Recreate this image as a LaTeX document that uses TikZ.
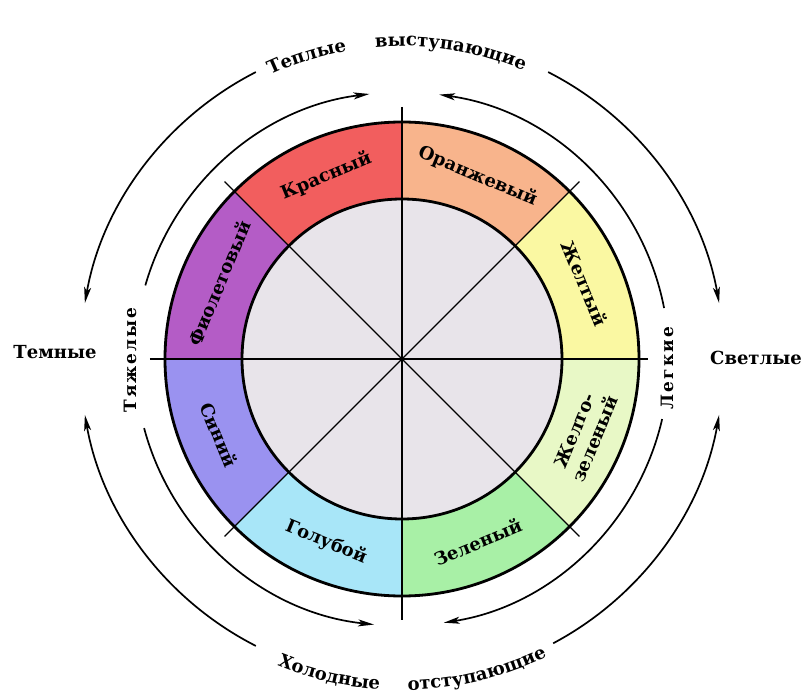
\documentclass[tikz,border=0pt]{standalone}
\usepackage{fontspec}
\setmainfont{DejaVu Serif}
\newfontfamily\spaced[LetterSpace=12]{DejaVu Serif}
\usetikzlibrary{arrows.meta,decorations.text}
\definecolor{red}{HTML}{F25E5E}
\definecolor{ora}{HTML}{F8B48C}
\definecolor{yel}{HTML}{FAF8A2}
\definecolor{ygr}{HTML}{E8F8C6}
\definecolor{grn}{HTML}{A8F0A6}
\definecolor{cya}{HTML}{A8E6F8}
\definecolor{blu}{HTML}{9A92F0}
\definecolor{vio}{HTML}{B45CC6}
\definecolor{disc}{HTML}{E8E4EA}

\begin{document}
\begin{tikzpicture}[x=1pt,y=1pt,font=\bfseries\fontsize{19}{21}\selectfont,
 hue/.style={font=\bfseries\fontsize{18}{22}\selectfont,align=center,inner sep=0pt},
 side/.style={font=\bfseries\fontsize{18}{21}\selectfont,inner sep=0pt},
 tilt/.style={font=\spaced\bfseries\fontsize{17}{21}\selectfont,inner sep=0pt,rotate=90},
 sweep/.style={-{Stealth[length=16pt,width=7pt,inset=4pt]},line width=1.7pt},
 rim/.style={line width=2.8pt},
 spoke/.style={line width=1.2pt}]
\path[use as bounding box] (-402,-337) rectangle (406,359);
% colour ring
\foreach \a/\c in {0/yel,45/ora,90/red,135/vio,180/blu,225/cya,270/grn,315/ygr}
 \fill[\c] (\a:160pt) arc[start angle=\a,end angle=\a+45,radius=160pt]
  -- (\a+45:237pt) arc[start angle=\a+45,end angle=\a,radius=237pt] -- cycle;
\fill[disc] (0,0) circle[radius=160pt];
\foreach \a in {45,135,225,315}
 \draw[spoke] (0,0) -- (\a:251pt);
\draw[spoke] (-252,0) -- (246,0);
\draw[spoke] (0,252) -- (0,-261);
\draw[rim] (0,0) circle[radius=160pt] (0,0) circle[radius=237pt];
\foreach \a/\r/\t [count=\i] in {22.5/-67.5/Желтый,67.5/-22.5/Оранжевый,
  112.5/22.5/Красный,157.5/67.5/Фиолетовый,202.5/-67.5/Синий,
  247.5/-22.5/Голубой,292.5/22.5/Зеленый,337.5/67.5/{Желто-\\зеленый}}
 \node[hue,rotate=\r] (hue\i) at (\a:198pt) {\t};
% outer arrows
\draw[sweep] (117:322pt) arc[start angle=117,end angle=170,radius=322pt];
\draw[sweep] (243:322pt) arc[start angle=243,end angle=190,radius=322pt];
\draw[sweep] (63:322pt) arc[start angle=63,end angle=10,radius=322pt];
\draw[sweep] (298:322pt) arc[start angle=298,end angle=350,radius=322pt];
% inner arrows
\draw[sweep] (164:267pt) arc[start angle=164,end angle=97,radius=267pt];
\draw[sweep] (11:267pt) arc[start angle=11,end angle=82,radius=267pt];
\draw[sweep] (195:267pt) arc[start angle=195,end angle=264,radius=267pt];
\draw[sweep] (347:267pt) arc[start angle=347,end angle=279,radius=267pt];
\node[side] (dark) at (-347,7) {Темные};
\node[side] (light) at (354,1) {Светлые};
\node[tilt] (heavy) at (-272,-1) {Тяжелые};
\node[tilt] (easy) at (265,-9) {Легкие};
\path[decorate,decoration={text along path,text align=center,
 text={|\bfseries\fontsize{18}{21}\selectfont|Теплые}}]
 (127:313pt) arc[start angle=127,end angle=88,radius=313pt];
\path[decorate,decoration={text along path,text align=center,
 text={|\bfseries\fontsize{18}{21}\selectfont|выступающие}}]
 (101:313pt) arc[start angle=101,end angle=61,radius=313pt];
\path[decorate,decoration={text along path,text align=center,
 text={|\bfseries\fontsize{18}{21}\selectfont|Холодные}}]
 (239:331pt) arc[start angle=239,end angle=275,radius=331pt];
\path[decorate,decoration={text along path,text align=center,
 text={|\bfseries\fontsize{18}{21}\selectfont|отступающие}}]
 (265:331pt) arc[start angle=265,end angle=302,radius=331pt];
\end{tikzpicture}
\end{document}
